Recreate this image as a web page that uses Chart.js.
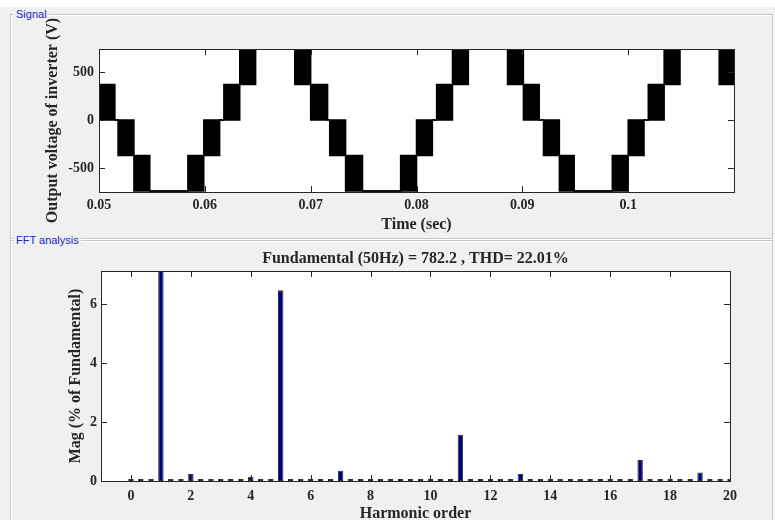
<!DOCTYPE html>
<html>
<head>
<meta charset="utf-8">
<title>Inverter output and FFT</title>
<script src="https://cdn.jsdelivr.net/npm/chart.js@4.4.1/dist/chart.umd.min.js"></script>
<style>
  html, body { margin: 0; padding: 0; }
  body { width: 775px; height: 520px; background: #f0f0f0; position: relative; overflow: hidden; }
  .strip { position: absolute; left: 0; top: 0; width: 775px; height: 7px; background: #fff; }
  .box { position: absolute; border: 1px solid #c6c6c6; box-shadow: inset 1px 1px 0 #fff, 1px 1px 0 #fff; }
  .lbl { position: absolute; left: 3px; top: -8px; padding: 0 2px; background: #f0f0f0;
         color: #2424c8; font: 11px "Liberation Sans", Arial, sans-serif; line-height: 14px; }
  canvas { position: absolute; left: 0; }
</style>
</head>
<body>
<div class="strip"></div>
<div class="box" style="left:10px; top:14px; width:761px; height:223px;"><span class="lbl">Signal</span></div>
<div class="box" style="left:10px; top:240px; width:761px; height:300px;"><span class="lbl">FFT analysis</span></div>
<canvas id="signal-chart" width="775" height="238" style="top:0"></canvas>
<canvas id="fft-chart" width="775" height="282" style="top:238px"></canvas>

<script>
// --- SIGNAL DATA ---
// breakpoints of the inverter output; between two breakpoints the trace switches
// between lowerLevel and upperLevel (solid black band), equal values = flat level
const stepTimes = [0.0500, 0.0515, 0.0518, 0.0533, 0.0548, 0.0584, 0.0599, 0.0614, 0.0618, 0.0633,
                   0.0648, 0.0685, 0.0700, 0.0716, 0.0718, 0.0733, 0.0749, 0.0785, 0.0800, 0.0815,
                   0.0819, 0.0834, 0.0849, 0.0886, 0.0901, 0.0916, 0.0920, 0.0935, 0.0949, 0.0985,
                   0.1000, 0.1015, 0.1019, 0.1034, 0.1049, 0.1086, 0.1100];
const upperLevel = [370, 0, 0, -370, -740, -370, 0, 0, 370, 740,
                    740, 740, 370, 0, 0, -370, -740, -370, 0, 0,
                    370, 740, 740, 740, 370, 0, 0, -370, -740, -370,
                    0, 0, 370, 740, 740, 740, 740];
const lowerLevel = [0, 0, -370, -740, -740, -740, -370, 0, 0, 370,
                    740, 370, 0, 0, -370, -740, -740, -740, -370, 0,
                    0, 370, 740, 370, 0, 0, -370, -740, -740, -740,
                    -370, 0, 0, 370, 740, 370, 370];
const timeTicks = [0.05, 0.06, 0.07, 0.08, 0.09, 0.1];
const voltTicks = [-500, 0, 500];

// --- FFT DATA ---
const harmonicOrder = [
  0, 0.33, 0.67,   1, 1.33, 1.67,   2, 2.33, 2.67,   3, 3.33, 3.67,   4, 4.33, 4.67,
  5, 5.33, 5.67,   6, 6.33, 6.67,   7, 7.33, 7.67,   8, 8.33, 8.67,   9, 9.33, 9.67,
  10, 10.33, 10.67, 11, 11.33, 11.67, 12, 12.33, 12.67, 13, 13.33, 13.67, 14, 14.33, 14.67,
  15, 15.33, 15.67, 16, 16.33, 16.67, 17, 17.33, 17.67, 18, 18.33, 18.67, 19, 19.33, 19.67,
  20];
const magnitude = [
  0, 0, 0,      100, 0, 0,    0.24, 0, 0,   0.02, 0, 0,   0.14, 0, 0,
  6.47, 0, 0,   0.02, 0, 0,   0.35, 0, 0,   0.06, 0, 0,   0.03, 0, 0,
  0.07, 0, 0,   1.57, 0, 0,   0.02, 0, 0,   0.24, 0, 0,   0.02, 0, 0,
  0.03, 0, 0,   0.05, 0, 0,   0.71, 0, 0,   0.01, 0, 0,   0.29, 0, 0,
  0.01];
const orderTicks = [0, 2, 4, 6, 8, 10, 12, 14, 16, 18, 20];
const magTicks = [0, 2, 4, 6];
const fftTitle = 'Fundamental (50Hz) = 782.2 , THD= 22.01%';

// --- STYLE ---
const AX_COLOR = '#262626';
const tickFont = { family: '"Liberation Serif", "Times New Roman", serif', size: 14, weight: 'bold' };
const labelFont = 'bold 16px "Liberation Serif", "Times New Roman", serif';

// white plot box, inward ticks on all four sides and axis titles, MATLAB style
const matlabAxes = {
  id: 'matlabAxes',
  beforeDraw(chart) {
    const { ctx, chartArea: a } = chart;
    ctx.save();
    ctx.fillStyle = '#fff';
    ctx.fillRect(a.left, a.top, a.right - a.left, a.bottom - a.top);
    ctx.restore();
  },
  afterDatasetsDraw(chart, args, opts) {
    const { ctx, chartArea: a, scales } = chart;
    const len = opts.tickLength;
    ctx.save();
    ctx.strokeStyle = AX_COLOR;
    ctx.lineWidth = 1;
    ctx.beginPath();
    scales.x.ticks.forEach(t => {
      const px = Math.round(scales.x.getPixelForValue(t.value)) + 0.5;
      ctx.moveTo(px, a.bottom); ctx.lineTo(px, a.bottom - len);
      ctx.moveTo(px, a.top); ctx.lineTo(px, a.top + len);
    });
    scales.y.ticks.forEach(t => {
      const py = Math.round(scales.y.getPixelForValue(t.value)) + 0.5;
      ctx.moveTo(a.left, py); ctx.lineTo(a.left + len, py);
      ctx.moveTo(a.right, py); ctx.lineTo(a.right - len, py);
    });
    ctx.stroke();
    ctx.strokeRect(Math.round(a.left) + 0.5, Math.round(a.top) + 0.5,
                   Math.round(a.right - a.left), Math.round(a.bottom - a.top));

    ctx.fillStyle = AX_COLOR;
    ctx.font = labelFont;
    ctx.textAlign = 'center';
    ctx.textBaseline = 'middle';
    const cx = (a.left + a.right) / 2;
    ctx.fillText(opts.xTitle, cx, a.bottom + opts.xTitleOffset);
    if (opts.title) ctx.fillText(opts.title, cx, a.top - opts.titleOffset);
    ctx.translate(a.left - opts.yTitleOffset, (a.top + a.bottom) / 2);
    ctx.rotate(-Math.PI / 2);
    ctx.fillText(opts.yTitle, 0, 0);
    ctx.restore();
  }
};

const fixedTicks = values => scale => { scale.ticks = values.map(v => ({ value: v })); };

const axisBase = {
  type: 'linear',
  grid: { display: false, drawTicks: false },
  border: { display: false }
};

// --- SIGNAL CHART ---
new Chart(document.getElementById('signal-chart'), {
  type: 'line',
  data: {
    datasets: [
      {
        label: 'upper',
        data: stepTimes.map((t, i) => ({ x: t, y: upperLevel[i] })),
        stepped: true, borderColor: '#000', borderWidth: 1.5, pointRadius: 0, fill: false
      },
      {
        label: 'lower',
        data: stepTimes.map((t, i) => ({ x: t, y: lowerLevel[i] })),
        stepped: true, borderColor: '#000', borderWidth: 1.5, pointRadius: 0,
        fill: '-1', backgroundColor: '#000'
      }
    ]
  },
  options: {
    responsive: false,
    animation: false,
    layout: { padding: { left: 0, top: 49, right: 41, bottom: 0 } },
    scales: {
      x: {
        ...axisBase, min: 0.05, max: 0.11,
        afterBuildTicks: fixedTicks(timeTicks),
        afterFit: s => { s.height = 46; },
        ticks: { color: AX_COLOR, font: tickFont, padding: 5, maxRotation: 0, autoSkip: false,
                 callback: v => String(v) }
      },
      y: {
        ...axisBase, min: -750, max: 740,
        afterBuildTicks: fixedTicks(voltTicks),
        afterFit: s => { s.width = 99; },
        ticks: { color: AX_COLOR, font: tickFont, padding: 5, autoSkip: false }
      }
    },
    plugins: {
      legend: { display: false },
      tooltip: { enabled: false },
      matlabAxes: {
        tickLength: 6,
        xTitle: 'Time (sec)', xTitleOffset: 33,
        yTitle: 'Output voltage of inverter (V)', yTitleOffset: 46
      }
    }
  },
  plugins: [matlabAxes]
});

// --- FFT CHART ---
new Chart(document.getElementById('fft-chart'), {
  type: 'bar',
  data: {
    datasets: [{
      label: 'Mag',
      data: harmonicOrder.map((h, i) => ({ x: h, y: magnitude[i] })),
      backgroundColor: '#000080',
      borderColor: '#303030',
      borderWidth: 1,
      borderSkipped: false,
      minBarLength: 2,
      barPercentage: 0.55,
      categoryPercentage: 1,
      clip: 0
    }]
  },
  options: {
    responsive: false,
    animation: false,
    layout: { padding: { left: 0, top: 33, right: 45, bottom: 0 } },
    scales: {
      x: {
        ...axisBase, min: -1, max: 20, offset: false,
        afterBuildTicks: fixedTicks(orderTicks),
        afterFit: s => { s.height = 39; },
        ticks: { color: AX_COLOR, font: tickFont, padding: 7, maxRotation: 0, autoSkip: false }
      },
      y: {
        ...axisBase, min: 0, max: 7.12,
        afterBuildTicks: fixedTicks(magTicks),
        afterFit: s => { s.width = 101; },
        ticks: { color: AX_COLOR, font: tickFont, padding: 4, autoSkip: false }
      }
    },
    plugins: {
      legend: { display: false },
      tooltip: { enabled: false },
      matlabAxes: {
        tickLength: 6,
        title: fftTitle, titleOffset: 12,
        xTitle: 'Harmonic order', xTitleOffset: 33,
        yTitle: 'Mag (% of Fundamental)', yTitleOffset: 25
      }
    }
  },
  plugins: [matlabAxes]
});
</script>
</body>
</html>
